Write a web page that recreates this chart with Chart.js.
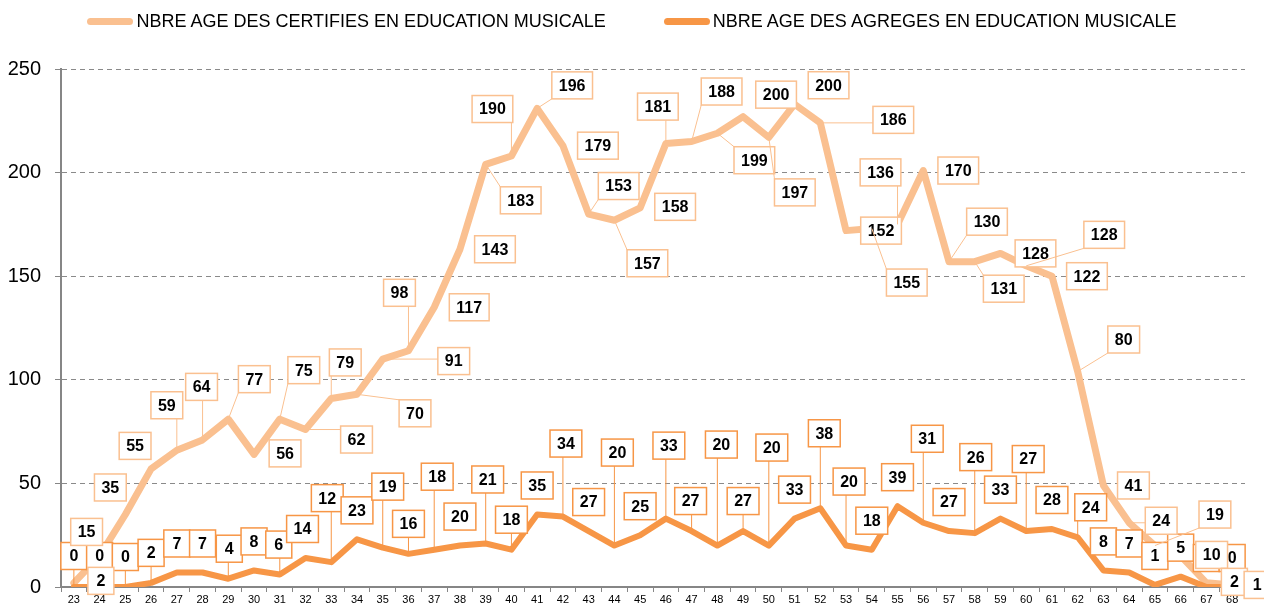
<!DOCTYPE html>
<html>
<head>
<meta charset="utf-8">
<script src="https://cdn.jsdelivr.net/npm/chart.js@4.4.0/dist/chart.umd.min.js"></script>
<style>
  html, body { margin: 0; padding: 0; background: #fff; }
  #cadre { position: relative; width: 1264px; height: 605px; }
  #legende {
    position: absolute; top: 11px; left: 0; width: 1264px;
    display: flex; justify-content: center; gap: 58px;
    font-family: "Liberation Sans", Arial, sans-serif; font-size: 18px; color: #000;
  }
  #legende .item { display: flex; align-items: center; white-space: nowrap; }
  #legende .trait { display: inline-block; width: 46px; height: 7px; border-radius: 4px; margin-right: 3px; }
</style>
</head>
<body>
<div id="cadre">
  <canvas id="graphe"></canvas>
  <div id="legende">
    <span class="item"><span class="trait" style="background:#FAC090"></span>NBRE AGE DES CERTIFIES EN EDUCATION MUSICALE</span>
    <span class="item"><span class="trait" style="background:#F79646"></span>NBRE AGE DES AGREGES EN EDUCATION MUSICALE</span>
  </div>
</div>
<script>
const ages = ['23','24','25','26','27','28','29','30','31','32','33','34','35','36','37','38','39','40','41','42','43','44','45',
  '46','47','48','49','50','51','52','53','54','55','56','57','58','59','60','61','62','63','64','65','66','67','68'];

const certifies = [2, 15, 35, 55, 59, 64, 77, 56, 75, 62, 79, 70, 91, 98, 117, 143, 183, 190, 196, 179, 153, 157, 158,
  181, 188, 199, 200, 197, 200, 186, 152, 155, 136, 170, 130, 131, 128, 128, 122, 80, 41, 24, 19, 10, 2, 1];

const agreges = [0, 0, 0, 2, 7, 7, 4, 8, 6, 14, 12, 23, 19, 16, 18, 20, 21, 18, 35, 34, 27, 20, 25,
  33, 27, 20, 27, 20, 33, 38, 20, 18, 39, 31, 27, 26, 33, 27, 28, 24, 8, 7, 1, 5, 0, 0];

const yTicks = [0, 50, 100, 150, 200, 250];

// decalage des etiquettes par rapport au point (pixels)
const decalCertifies = [[27,-2],[-13,-24],[-15,-27],[-16,-23],[-10,-45],[-1,-53],[26,-40],[31,-1],[24,-49],[51,10],
  [14,-36],[58,19],[71,2],[-9,-58],[35,0],[35,0],[35,36],[-19,-47],[35,-23],[35,0],[30,-28],[33,43],[35,-1],
  [-8,-37],[30,-50],[37,27],[33,-22],[26,55],[34,-19],[73,-3],[35,0],[35,54],[-17,-52],[35,0],[38,-40],[29,27],
  [35,0],[78,-31],[35,0],[46,-32],[30,0],[32,-2],[60,-31],[31,-1],[28,-1],[25,0]];

const decalAgreges = [[0,-31],[0,-31],[0,-30],[0,-30],[0,-29],[0,-29],[1,-30],[0,-29],[-1,-30],[-3,-29],
  [-4,-64],[0,-29],[5,-61],[0,-30],[3,-73],[0,-29],[2,-64],[0,-30],[0,-29],[3,-73],[0,-29],[3,-93],[0,-29],
  [3,-73],[-1,-30],[4,-101],[0,-30],[3,-98],[0,-29],[4,-75],[3,-64],[0,-29],[0,-29],[4,-84],[0,-29],[1,-76],
  [0,-29],[2,-72],[0,-29],[13,-30],[0,-29],[0,-29],[0,-29],[0,-29],[0,-29],[0,-29]];

const police = '"Liberation Sans", Arial, sans-serif';

// etiquettes encadrees avec traits de rappel
const etiquettes = {
  id: 'etiquettes',
  afterDraw(chart) {
    const ctx = chart.ctx;
    ctx.save();
    ctx.font = 'bold 16px ' + police;
    ctx.textAlign = 'center';
    ctx.textBaseline = 'middle';
    const series = [
      { index: 0, decal: decalAgreges, couleur: '#F79646' },
      { index: 1, decal: decalCertifies, couleur: '#FAC090' }
    ];
    series.forEach(s => {
      const meta = chart.getDatasetMeta(s.index);
      const valeurs = chart.data.datasets[s.index].data;
      meta.data.forEach((pt, i) => {
        const texte = String(valeurs[i]);
        const w = Math.max(26, ctx.measureText(texte).width + 14);
        const h = 27;
        const cx = pt.x + s.decal[i][0];
        const cy = pt.y + s.decal[i][1];
        const gauche = cx - w / 2;
        const haut = cy - h / 2;
        const nx = Math.max(gauche, Math.min(pt.x, gauche + w));
        const ny = Math.max(haut, Math.min(pt.y, haut + h));
        if (Math.hypot(pt.x - nx, pt.y - ny) > 16) {
          ctx.strokeStyle = s.couleur;
          ctx.lineWidth = 1;
          ctx.beginPath();
          ctx.moveTo(pt.x, pt.y);
          ctx.lineTo(nx, ny);
          ctx.stroke();
        }
        ctx.fillStyle = '#fff';
        ctx.fillRect(gauche, haut, w, h);
        ctx.strokeStyle = s.couleur;
        ctx.lineWidth = 1.5;
        ctx.strokeRect(gauche, haut, w, h);
        ctx.fillStyle = '#000';
        ctx.fillText(texte, cx, cy + 1);
      });
    });
    ctx.restore();
  }
};

new Chart(document.getElementById('graphe'), {
  type: 'line',
  data: {
    labels: ages,
    datasets: [
      {
        label: 'NBRE AGE DES AGREGES EN EDUCATION MUSICALE',
        data: agreges,
        borderColor: '#F79646',
        borderWidth: 6,
        pointRadius: 0,
        tension: 0,
        borderJoinStyle: 'round',
        borderCapStyle: 'round',
        fill: false
      },
      {
        label: 'NBRE AGE DES CERTIFIES EN EDUCATION MUSICALE',
        data: certifies,
        borderColor: '#FAC090',
        borderWidth: 7,
        pointRadius: 0,
        tension: 0,
        borderJoinStyle: 'round',
        borderCapStyle: 'round',
        fill: false
      }
    ]
  },
  options: {
    responsive: true,
    maintainAspectRatio: false,
    animation: false,
    events: [],
    layout: { padding: { top: 69, left: 0, right: 19, bottom: 0 } },
    plugins: {
      legend: { display: false },
      tooltip: { enabled: false }
    },
    scales: {
      x: {
        offset: true,
        afterFit: axis => { axis.height = 18; },
        grid: { drawOnChartArea: false, offset: true, tickLength: 5, tickColor: '#868686', tickWidth: 1 },
        border: { color: '#868686', width: 2 },
        ticks: { color: '#000', font: { family: police, size: 11, lineHeight: 1 }, padding: 2, maxRotation: 0, autoSkip: false }
      },
      y: {
        stacked: true,
        min: 0,
        max: 250,
        afterBuildTicks: axis => { axis.ticks = yTicks.map(v => ({ value: v })); },
        afterFit: axis => { axis.width = 61; axis.paddingTop = 0; axis.paddingBottom = 0; },
        grid: { color: '#8a8a8a', lineWidth: 1, tickLength: 6, tickColor: '#868686', tickBorderDash: [] },
        border: { color: '#868686', width: 2, dash: [5, 4] },
        ticks: { color: '#000', font: { family: police, size: 20 }, padding: 14 }
      }
    }
  },
  plugins: [etiquettes]
});
</script>
</body>
</html>
